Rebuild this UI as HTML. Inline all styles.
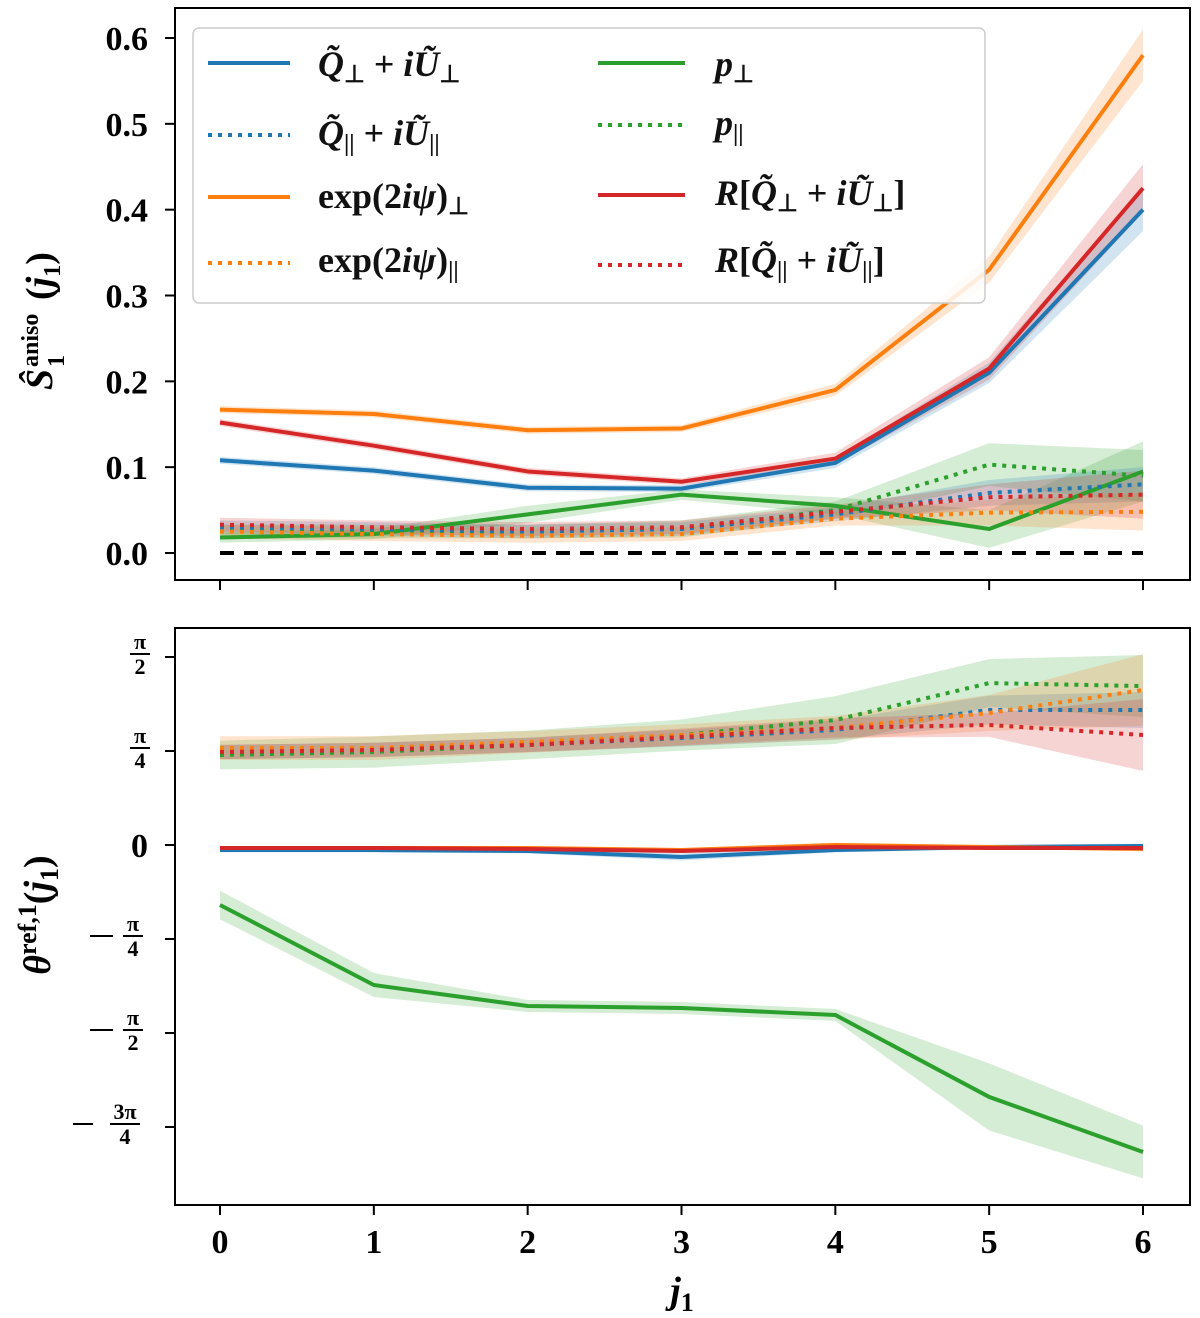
<!DOCTYPE html>
<html><head><meta charset="utf-8"><style>
html,body{margin:0;padding:0;background:#fff;}
svg{display:block;font-family:"Liberation Serif",serif;}
</style></head><body>
<svg id="chart" width="1200" height="1318" viewBox="0 0 1200 1318" xmlns="http://www.w3.org/2000/svg">
<g id="top-bands"></g>
<g id="top-lines"></g>
<g id="bot-bands"></g>
<g id="bot-lines"></g>
<rect x="175" y="8" width="1015" height="572" fill="none" stroke="#000" stroke-width="2"/>
<rect x="175" y="628" width="1015" height="577" fill="none" stroke="#000" stroke-width="2"/>
<g id="ticks"></g>

<g>
<rect x="193" y="28" width="792" height="275" rx="6" fill="#fff" fill-opacity="0.85" stroke="#ccc" stroke-width="1.5"/>
<g font-weight="bold" font-size="36" fill="#111">
<g><line x1="208" y1="63" x2="290" y2="63" stroke="#1f77b4" stroke-width="4"/><text x="318" y="76" font-style="italic">Q̃<tspan font-style="normal" font-size="24" dy="6">⊥</tspan><tspan font-style="normal" dy="-6"> + </tspan>iŨ<tspan font-style="normal" font-size="24" dy="6">⊥</tspan></text></g>
<g><line x1="208" y1="135" x2="290" y2="135" stroke="#1f77b4" stroke-width="4" stroke-dasharray="4,6"/><text x="318" y="145" font-style="italic">Q̃<tspan font-style="normal" font-size="24" dy="6">||</tspan><tspan font-style="normal" dy="-6"> + </tspan>iŨ<tspan font-style="normal" font-size="24" dy="6">||</tspan></text></g>
<g><line x1="208" y1="197" x2="290" y2="197" stroke="#ff7f0e" stroke-width="4"/><text x="318" y="208">exp(2<tspan font-style="italic">iψ</tspan>)<tspan font-size="24" dy="6">⊥</tspan></text></g>
<g><line x1="208" y1="263" x2="290" y2="263" stroke="#ff7f0e" stroke-width="4" stroke-dasharray="4,6"/><text x="318" y="272">exp(2<tspan font-style="italic">iψ</tspan>)<tspan font-size="24" dy="6">||</tspan></text></g>
<g><line x1="598" y1="63" x2="685" y2="63" stroke="#2ca02c" stroke-width="4"/><text x="715" y="76" font-style="italic">p<tspan font-style="normal" font-size="24" dy="6">⊥</tspan></text></g>
<g><line x1="598" y1="125" x2="685" y2="125" stroke="#2ca02c" stroke-width="4" stroke-dasharray="4,6"/><text x="715" y="135" font-style="italic">p<tspan font-style="normal" font-size="24" dy="6">||</tspan></text></g>
<g><line x1="598" y1="195" x2="685" y2="195" stroke="#d62728" stroke-width="4"/><text x="715" y="205" font-style="italic">R<tspan font-style="normal">[</tspan>Q̃<tspan font-style="normal" font-size="24" dy="6">⊥</tspan><tspan font-style="normal" dy="-6"> + </tspan>iŨ<tspan font-style="normal" font-size="24" dy="6">⊥</tspan><tspan font-style="normal" dy="-6">]</tspan></text></g>
<g><line x1="598" y1="265" x2="685" y2="265" stroke="#d62728" stroke-width="4" stroke-dasharray="4,6"/><text x="715" y="272" font-style="italic">R<tspan font-style="normal">[</tspan>Q̃<tspan font-style="normal" font-size="24" dy="6">||</tspan><tspan font-style="normal" dy="-6"> + </tspan>iŨ<tspan font-style="normal" font-size="24" dy="6">||</tspan><tspan font-style="normal" dy="-6">]</tspan></text></g>
</g></g>

<g transform="translate(52,295) rotate(-90)" font-weight="bold">
<text x="-95" y="0" font-size="38" font-style="italic">Ŝ</text>
<text x="-72" y="-14" font-size="24">aniso</text>
<text x="-72" y="12" font-size="24">1</text>
<text x="-5" y="0" font-size="38">(<tspan font-style="italic">j</tspan><tspan font-size="24" dy="8">1</tspan><tspan dy="-8">)</tspan></text>
</g>
<text transform="translate(50,915) rotate(-90)" text-anchor="middle" font-size="38" font-weight="bold" font-style="italic">θ<tspan font-style="normal" font-size="26" dy="-14">ref,1</tspan><tspan font-style="normal" dy="14">(</tspan>j<tspan font-style="normal" font-size="26" dy="8">1</tspan><tspan font-style="normal" dy="-8">)</tspan></text>
<text x="682" y="1303" text-anchor="middle" font-size="38" font-weight="bold" font-style="italic">j<tspan font-style="normal" font-size="26" dy="8">1</tspan></text>

<script>
const categories=[0,1,2,3,4,5,6];
const topTicks=[0.0,0.1,0.2,0.3,0.4,0.5,0.6];
const topTickLabels=["0.0","0.1","0.2","0.3","0.4","0.5","0.6"];
const botTicks=[Math.PI/2,Math.PI/4,0,-Math.PI/4,-Math.PI/2,-3*Math.PI/4];
const botTickNum=["π","π","0","π","π","3π"];
const botTickDen=["2","4","","4","2","4"];
const botTickNeg=[false,false,false,true,true,true];
// top panel series
const qPerp=[0.108,0.096,0.076,0.075,0.105,0.21,0.40];
const qPerpErr=[0.004,0.004,0.004,0.004,0.006,0.012,0.025];
const expPerp=[0.167,0.162,0.143,0.145,0.19,0.33,0.58];
const expPerpErr=[0.004,0.004,0.004,0.004,0.007,0.015,0.03];
const rPerp=[0.152,0.125,0.095,0.083,0.11,0.215,0.425];
const rPerpErr=[0.004,0.004,0.004,0.004,0.007,0.013,0.028];
const pPerp=[0.018,0.022,0.045,0.068,0.055,0.028,0.095];
const pPerpErr=[0.006,0.006,0.01,0.006,0.01,0.022,0.035];
const pPar=[0.025,0.025,0.025,0.028,0.05,0.103,0.09];
const pParErr=[0.008,0.008,0.008,0.01,0.01,0.025,0.03];
const qPar=[0.03,0.028,0.025,0.028,0.045,0.07,0.08];
const qParErr=[0.008,0.008,0.008,0.008,0.008,0.015,0.02];
const expPar=[0.025,0.022,0.02,0.022,0.04,0.047,0.048];
const expParErr=[0.008,0.008,0.008,0.008,0.008,0.015,0.022];
const rPar=[0.033,0.03,0.028,0.03,0.048,0.065,0.068];
const rParErr=[0.008,0.008,0.008,0.008,0.008,0.015,0.028];
// bottom panel series (radians)
const tQPar=[0.777,0.794,0.836,0.894,0.961,1.128,1.128];
const tQParErr=[0.06,0.06,0.06,0.07,0.08,0.12,0.15];
const tExpPar=[0.810,0.810,0.861,0.919,0.978,1.103,1.295];
const tExpParErr=[0.10,0.10,0.09,0.09,0.10,0.15,0.30];
const tRPar=[0.777,0.794,0.836,0.902,0.978,1.003,0.919];
const tRParErr=[0.06,0.06,0.06,0.07,0.08,0.10,0.30];
const tPPar=[0.752,0.777,0.836,0.919,1.044,1.353,1.328];
const tPParErr=[0.12,0.13,0.12,0.13,0.20,0.20,0.26];
const tQPerp=[-0.042,-0.042,-0.050,-0.100,-0.042,-0.017,-0.008];
const tQPerpErr=[0.02,0.02,0.02,0.03,0.02,0.02,0.02];
const tExpPerp=[-0.025,-0.025,-0.025,-0.042,0,-0.017,-0.033];
const tExpPerpErr=[0.015,0.015,0.015,0.015,0.02,0.015,0.02];
const tRPerp=[-0.025,-0.025,-0.033,-0.050,-0.017,-0.025,-0.025];
const tRPerpErr=[0.015,0.015,0.015,0.015,0.015,0.015,0.015];
const tPPerp=[-0.501,-1.170,-1.345,-1.362,-1.420,-2.105,-2.565];
const tPPerpErr=[0.12,0.10,0.05,0.05,0.05,0.28,0.22];

const NS="http://www.w3.org/2000/svg";
const xS=j=>220+j*(1143-220)/6;
const yTop=v=>553-v*(553-38)/0.6;
const yBot=v=>845-v*94/(Math.PI/4);
const C={b:"#1f77b4",o:"#ff7f0e",g:"#2ca02c",r:"#d62728"};
function mk(tag,attrs,parent){const e=document.createElementNS(NS,tag);for(const k in attrs)e.setAttribute(k,attrs[k]);parent.appendChild(e);return e;}
function band(vals,err,ys,color,parent,name){
  let d="";vals.forEach((v,i)=>{d+=(i?"L":"M")+xS(categories[i])+","+ys(v+err[i]);});
  for(let i=vals.length-1;i>=0;i--)d+="L"+xS(categories[i])+","+ys(vals[i]-err[i]);
  const p=mk("path",{d:d+"Z",fill:color,"fill-opacity":0.2,stroke:"none"},parent);
  
  
}
function line(vals,ys,color,dotted,parent,name){
  const pts=vals.map((v,i)=>xS(categories[i])+","+ys(v)).join(" ");
  const a={points:pts,fill:"none",stroke:color,"stroke-width":4,"stroke-linejoin":"round"};
  if(dotted)a["stroke-dasharray"]="4,6";
  const p=mk("polyline",a,parent);
  
  
}
const tb=document.getElementById("top-bands"),tl=document.getElementById("top-lines");
const topSeries=[[qPerp,qPerpErr,C.b,false,"q-perp"],[expPerp,expPerpErr,C.o,false,"exp-perp"],[rPerp,rPerpErr,C.r,false,"r-perp"],[pPerp,pPerpErr,C.g,false,"p-perp"],[pPar,pParErr,C.g,true,"p-par"],[qPar,qParErr,C.b,true,"q-par"],[expPar,expParErr,C.o,true,"exp-par"],[rPar,rParErr,C.r,true,"r-par"]];
topSeries.forEach(s=>band(s[0],s[1],yTop,s[2],tb,"top-"+s[4]));
const zl=mk("line",{x1:xS(0),x2:xS(6),y1:yTop(0),y2:yTop(0),stroke:"#000","stroke-width":4,"stroke-dasharray":"14,10"},tl);


topSeries.forEach(s=>line(s[0],yTop,s[2],s[3],tl,"top-"+s[4]));
const bb=document.getElementById("bot-bands"),bl=document.getElementById("bot-lines");
const botSeries=[[tPPar,tPParErr,C.g,true,"p-par"],[tQPar,tQParErr,C.b,true,"q-par"],[tExpPar,tExpParErr,C.o,true,"exp-par"],[tRPar,tRParErr,C.r,true,"r-par"],[tQPerp,tQPerpErr,C.b,false,"q-perp"],[tExpPerp,tExpPerpErr,C.o,false,"exp-perp"],[tRPerp,tRPerpErr,C.r,false,"r-perp"],[tPPerp,tPPerpErr,C.g,false,"p-perp"]];
botSeries.forEach(s=>band(s[0],s[1],yBot,s[2],bb,"bottom-"+s[4]));
botSeries.forEach(s=>line(s[0],yBot,s[2],s[3],bl,"bottom-"+s[4]));

const tk=document.getElementById("ticks");
topTicks.forEach((v,i)=>{
  const l=mk("line",{x1:165,x2:175,y1:yTop(v),y2:yTop(v),stroke:"#000","stroke-width":2},tk);
  
  
  const t=mk("text",{x:148,y:yTop(v)+12,"text-anchor":"end","font-size":34,"font-weight":"bold"},tk);
  t.textContent=topTickLabels[i];
  
  
});
botTicks.forEach((v,i)=>{
  const y=yBot(v);
  const l=mk("line",{x1:165,x2:175,y1:y,y2:y,stroke:"#000","stroke-width":2},tk);
  
  
  const g=mk("g",{"font-weight":"bold"},tk);
  
  
  if(botTickDen[i]===""){const t=mk("text",{x:148,y:y+12,"text-anchor":"end","font-size":34},g);t.textContent=botTickNum[i];return;}
  const wide=botTickNum[i].length>1;
  const cx=botTickNeg[i]?(wide?125:133):140;
  const n=mk("text",{x:cx,y:y-8,"text-anchor":"middle","font-size":22},g);n.textContent=botTickNum[i];
  mk("line",{x1:cx-(wide?15:10),x2:cx+(wide?15:10),y1:y-3,y2:y-3,stroke:"#000","stroke-width":2},g);
  const d=mk("text",{x:cx,y:y+17,"text-anchor":"middle","font-size":22},g);d.textContent=botTickDen[i];
  if(botTickNeg[i])mk("line",{x1:cx-(wide?52:43),x2:cx-(wide?32:20),y1:y-3,y2:y-3,stroke:"#000","stroke-width":2},g);
});
categories.forEach(c=>{
  [580,1205].forEach(yb=>{
    const l=mk("line",{x1:xS(c),x2:xS(c),y1:yb,y2:yb+10,stroke:"#000","stroke-width":2},tk);
    
    
  });
  const t=mk("text",{x:xS(c),y:1253,"text-anchor":"middle","font-size":34,"font-weight":"bold"},tk);
  t.textContent=String(c);
  
  
});
</script>
</svg>
</body></html>
